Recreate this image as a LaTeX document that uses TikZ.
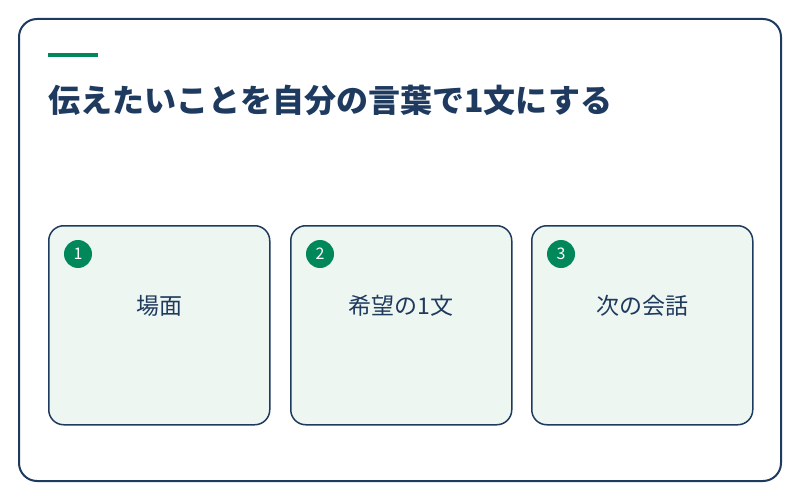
\documentclass[tikz,border=0pt]{standalone}
\usepackage{fontspec}
\newfontfamily\jp{Noto Sans CJK JP}
\usetikzlibrary{positioning}
\definecolor{navy}{HTML}{1F3A5F}
\definecolor{accent}{HTML}{00875A}
\definecolor{cardbg}{HTML}{EEF6F1}
\tikzstyle{card} = [draw=navy, line width=1.5pt, fill=cardbg, rounded corners=15pt, minimum width=221pt, minimum height=199pt, inner sep=0pt]
\tikzstyle{badge} = [circle, fill=accent, minimum size=28pt, inner sep=0pt, text=white, font=\jp\fontsize{16}{16}\selectfont]
\tikzstyle{cardtext} = [text=navy, inner sep=0pt, font=\jp\fontsize{23}{23}\selectfont]

\begin{document}
\begin{tikzpicture}[x=1pt,y=-1pt]
\useasboundingbox (0,0) rectangle (800,500);
\draw[navy, line width=2pt, rounded corners=18pt] (19,19) rectangle (781,481);
\fill[accent] (48,53) rectangle (98,57);
\node[anchor=west, inner sep=0pt, text=navy, font=\jp\bfseries\fontsize{32}{32}\selectfont] (title) at (48,100) {伝えたいことを自分の言葉で1文にする};

\foreach \i/\x/\lbl in {1/48/場面, 2/290/希望の1文, 3/531/次の会話} {
    \node[card, anchor=north west] (card\i) at (\x,225) {};
    \node[badge] (badge\i) at ([xshift=30pt,yshift=-29pt]card\i.north west) {\i};
    \node[cardtext] (label\i) at ([yshift=-81pt]card\i.north) {\lbl};
}
\end{tikzpicture}
\end{document}
